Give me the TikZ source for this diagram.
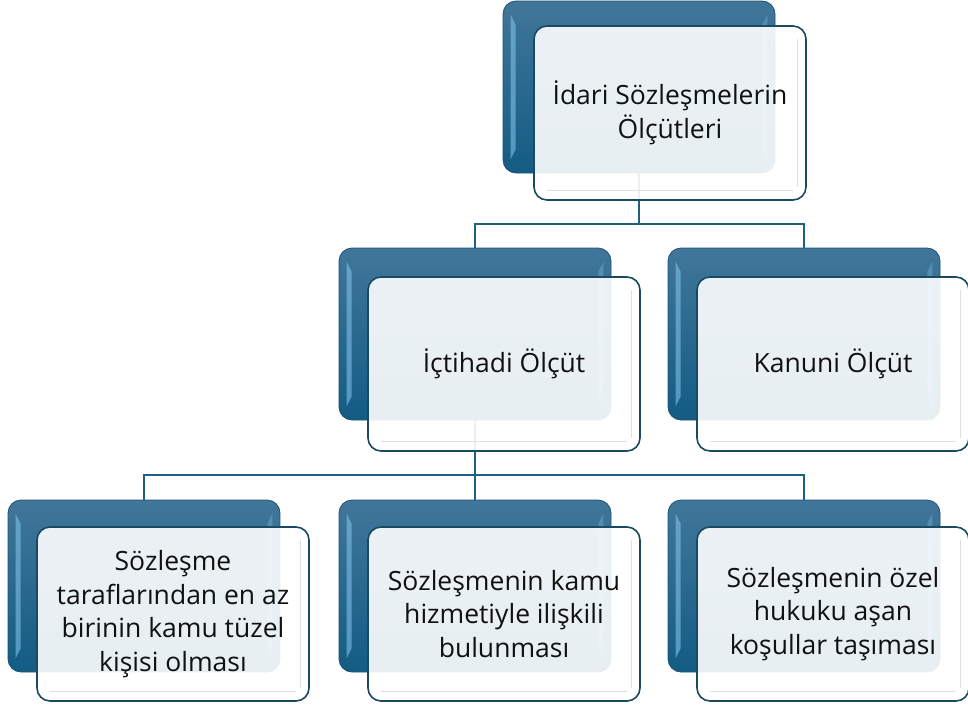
\documentclass[tikz,border=0pt]{standalone}
\usepackage{fontspec}
\setmainfont{Open Sans}
\usetikzlibrary{calc}
\definecolor{backtop}{HTML}{41769A}
\definecolor{backbot}{HTML}{135C84}
\definecolor{backline}{HTML}{1B5474}
\definecolor{frontline}{HTML}{1A4A62}
\definecolor{connc}{HTML}{1F5F80}
\definecolor{hlc}{HTML}{7FC0E6}
\definecolor{txt}{HTML}{111111}
\tikzset{
  backbox/.style={rounded corners=13pt, minimum width=272pt, minimum height=172pt, inner sep=0pt,
    draw=backline, line width=0.8pt, top color=backtop, bottom color=backbot},
  frontbox/.style={rounded corners=13pt, minimum width=272pt, minimum height=174pt, inner sep=0pt,
    draw=frontline, line width=1.6pt, fill=white, fill opacity=0.9, text opacity=1,
    align=center, text=txt, font=\fontsize{26.5}{33.5}\selectfont},
  conn/.style={draw=connc, line width=2pt},
  hl/.style={fill=hlc, fill opacity=0.6},
  hlr/.style={fill=hlc, fill opacity=0.35},
  bevel/.style={draw=black!12, line width=1.2pt, rounded corners=8pt}
}
\newcommand\backdeco[1]{%
  \fill[hl] ($(#1.north west)+(8,14)$) -- ($(#1.north west)+(13,24)$) -- ($(#1.south west)+(13,-24)$) -- ($(#1.south west)+(8,-14)$) -- cycle;
  \fill[hlr] ($(#1.north east)+(-8,14)$) -- ($(#1.north east)+(-13,24)$) -- ($(#1.south east)+(-13,-24)$) -- ($(#1.south east)+(-8,-14)$) -- cycle;
}
\newcommand\frontdeco[1]{%
  \draw[bevel] ($(#1.north east)+(-9,14)$) -- ($(#1.south east)+(-9,-14)$);
  \draw[bevel] ($(#1.south west)+(14,-10)$) -- ($(#1.south east)+(-14,-10)$);
}
\begin{document}
\begin{tikzpicture}[x=1pt,y=-1pt]
\useasboundingbox (0,0) rectangle (968,707);
% back boxes
\node[backbox] (b1) at (639,87) {};
\node[backbox] (b2) at (475,334) {};
\node[backbox] (b3) at (804,334) {};
\node[backbox] (b4) at (144,586) {};
\node[backbox] (b5) at (475,586) {};
\node[backbox] (b6) at (804,586) {};
\backdeco{b1}\backdeco{b2}\backdeco{b3}\backdeco{b4}\backdeco{b5}\backdeco{b6}
% connectors
\coordinate (j1) at (639,224);
\coordinate (j2) at (475,475);
\draw[conn] (b1.south) -- (j1) -| (b2.north);
\draw[conn] (j1) -| (b3.north);
\draw[conn] (b2.south) -- (j2) -| (b4.north);
\draw[conn] (j2) -- (b5.north);
\draw[conn] (j2) -| (b6.north);
% front boxes
\node[frontbox] (f1) at (670,113) {İdari Sözleşmelerin\\Ölçütleri};
\node[frontbox] (f2) at (504,364) {İçtihadi Ölçüt};
\node[frontbox] (f3) at (833,364) {Kanuni Ölçüt};
\node[frontbox] (f4) at (173,614) {Sözleşme\\taraflarından en az\\birinin kamu tüzel\\kişisi olması};
\node[frontbox] (f5) at (504,614) {Sözleşmenin kamu\\hizmetiyle ilişkili\\bulunması};
\node[frontbox] (f6) at (833,614) {Sözleşmenin özel\\hukuku aşan\\koşullar taşıması};
\frontdeco{f1}\frontdeco{f2}\frontdeco{f3}\frontdeco{f4}\frontdeco{f5}\frontdeco{f6}
\end{tikzpicture}
\end{document}
